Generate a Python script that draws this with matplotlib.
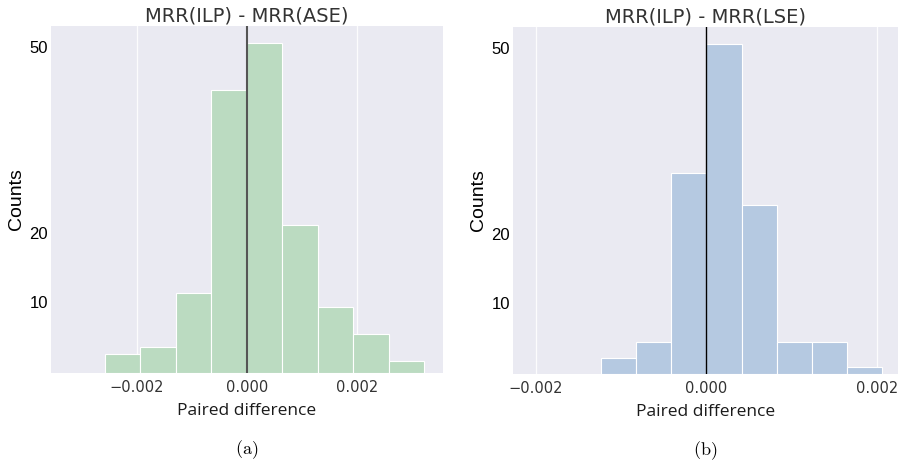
import matplotlib
matplotlib.use("Agg")
import matplotlib.pyplot as plt
import numpy as np

# bin edges and counts
edges_ase = [-0.00258, -0.001935, -0.00129, -0.000645, 0.0, 0.000645, 0.00129, 0.001935, 0.00258, 0.003225]
counts_ase = [2.7, 3.7, 11.4, 42.4, 50.6, 21.2, 9.4, 5.5, 1.7]

edges_lse = [-0.00123, -0.00082, -0.00041, 0.0, 0.000413, 0.000826, 0.00124, 0.00165, 0.00206]
counts_lse = [2.2, 4.5, 29.3, 50.7, 24.4, 4.5, 4.5, 1.0]

titles = ["MRR(ILP) - MRR(ASE)", "MRR(ILP) - MRR(LSE)"]
captions = ["(a)", "(b)"]
ytick_vals = [10, 20, 50]
xtick_vals = [-0.002, 0.0, 0.002]

plt.rcParams["mathtext.fontset"] = "cm"

fig = plt.figure(figsize=(9, 4.62), dpi=100)
ax1 = fig.add_axes([51 / 900, 89 / 462, 392 / 900, 347 / 462])
ax2 = fig.add_axes([513 / 900, 88 / 462, 385 / 900, 347 / 462])


def panel(ax, edges, counts, color, zcolor, zlw, xlim, title, caption):
    ax.set_facecolor("#eaeaf2")
    for s in ax.spines.values():
        s.set_visible(False)
    ax.set_yscale("asinh", linear_width=65)
    edges = np.array(edges)
    ax.bar(edges[:-1], counts, width=np.diff(edges), align="edge",
           color=color, edgecolor="white", linewidth=0.8, zorder=2)
    for xv in xtick_vals:
        ax.axvline(xv, color="white", lw=0.9, alpha=0.9, zorder=1)
    ax.axvline(0.0, color=zcolor, lw=zlw, zorder=3)
    ax.set_xlim(*xlim)
    ax.set_ylim(0, 53.7)
    ax.set_xticks(xtick_vals)
    ax.set_xticklabels(["\u22120.002", "0.000", "0.002"], fontsize=10.5,
                       color="#333333", family="DejaVu Sans")
    ax.set_yticks(ytick_vals)
    ax.set_yticklabels([str(v) for v in ytick_vals], fontsize=12,
                       family="Liberation Sans", color="black")
    ax.yaxis.set_minor_locator(matplotlib.ticker.NullLocator())
    ax.tick_params(axis="both", length=0)
    ax.tick_params(axis="y", pad=2)
    ax.tick_params(axis="x", pad=5)
    ax.set_title(title, fontsize=14, color="#333333", family="DejaVu Sans", pad=3)
    ax.set_xlabel("Paired difference", fontsize=12.5, family="Open Sans",
                  color="#1a1a1a", labelpad=6)
    ax.set_ylabel("Counts", fontsize=14, family="Liberation Sans",
                  color="black", labelpad=3)
    ax.text(0.5, -0.22, r"$\mathrm{" + caption + "}$", transform=ax.transAxes,
            ha="center", va="center", fontsize=13)


panel(ax1, edges_ase, counts_ase, "#bbdbc1", "#555555", 1.5,
      (-0.00356, 0.00357), titles[0], captions[0])
panel(ax2, edges_lse, counts_lse, "#b5c9e1", "black", 1.0,
      (-0.002265, 0.002246), titles[1], captions[1])

fig.savefig("out.png", dpi=100)
